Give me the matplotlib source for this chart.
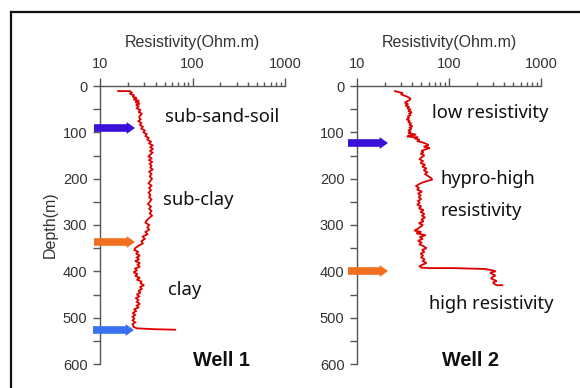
import matplotlib
matplotlib.use("Agg")
import matplotlib.pyplot as plt
from matplotlib.lines import Line2D
from matplotlib.ticker import LogLocator, NullFormatter, FixedLocator

plt.rcParams["font.family"] = ["Liberation Sans", "DejaVu Sans"]

# ---- data ----
well1_depth = [11, 11, 14, 17, 20, 23, 26, 29, 32, 35, 38, 41, 44, 48, 52, 56, 60, 64, 68, 72,
               76, 80, 84, 88, 92, 96, 100, 104, 108, 112, 116, 120, 124, 128, 132, 136, 140,
               144, 148, 152, 156, 160, 164, 168, 172, 176, 180, 185, 190, 195, 200, 205, 210,
               215, 220, 225, 230, 235, 240, 245, 250, 255, 260, 265, 270, 275, 280, 285, 290,
               295, 300, 305, 310, 315, 320, 325, 330, 335, 340, 345, 350, 354, 358, 362, 366,
               370, 374, 378, 382, 386, 390, 394, 398, 402, 406, 410, 414, 418, 422, 426, 430,
               434, 438, 442, 446, 450, 454, 458, 462, 466, 470, 474, 478, 482, 486, 490, 494,
               498, 502, 506, 510, 514, 518, 520, 523, 525, 526]
well1_res = [15.7, 21, 22, 21, 23.5, 22.5, 25, 23, 26.5, 24, 27, 24.5, 26, 25, 27.5, 26, 28.5, 27,
             26.5, 27.5, 26, 28, 27, 29, 28, 30.5, 29.5, 32, 31, 33.5, 32.5, 35.5, 34, 37, 35,
             37.5, 34.5, 37, 35, 33.5, 36, 34, 36.5, 34.5, 36, 35, 37, 34, 36, 34.5, 36.5, 35,
             33.5, 36, 34, 35.5, 33.5, 35, 34, 36, 34.5, 33, 35.5, 34, 36, 34.5, 36.5, 34, 32,
             31, 34, 32.5, 34, 31, 32.5, 29, 30.5, 28, 29, 26, 24, 23.5, 26, 24.5, 27, 25, 26.5,
             24, 27, 25.5, 27, 24, 25, 23, 25.5, 24, 27, 25, 28, 27.5, 30, 27, 28.5, 26, 27.5,
             25, 26.5, 24.5, 26, 25, 27, 25, 26, 23.5, 24.5, 22.5, 24, 22.5, 23.5, 22.5, 24,
             22.5, 23, 23, 25, 40, 65]

well2_depth = [11, 13, 15, 18, 21, 24, 27, 30, 33, 36, 39, 42, 45, 48, 51, 54, 57, 60, 63, 66,
               69, 72, 75, 78, 81, 84, 87, 90, 93, 96, 99, 102, 105, 107, 109, 111, 113, 116,
               119, 122, 125, 128, 131, 134, 137, 140, 143, 146, 150, 154, 158, 162, 166, 170,
               174, 178, 182, 186, 190, 194, 198, 202, 205, 208, 212, 216, 220, 224, 228, 232,
               236, 240, 244, 248, 252, 256, 260, 264, 268, 272, 276, 280, 284, 288, 292, 296,
               300, 304, 308, 312, 315, 318, 322, 326, 330, 334, 338, 342, 346, 350, 354, 358,
               362, 366, 370, 374, 378, 382, 386, 389, 392, 393, 393, 395, 396, 398, 400, 403,
               406, 409, 412, 415, 418, 421, 424, 427, 430, 430]
well2_res = [25.9, 28, 31.5, 30, 33, 36, 38, 37.5, 35, 33, 36, 33.5, 37, 35, 38.5, 36, 39.5, 37,
             38, 35.5, 37, 34.5, 37.5, 36, 39, 37, 40, 37.5, 39, 36, 38.5, 36, 44, 38, 35, 46,
             42, 48, 45, 52, 57, 60, 53, 62, 55, 50, 53, 49, 54, 50, 48, 52, 49, 55, 51, 57, 53,
             58, 55, 59, 63, 66, 58, 52, 47, 44, 47, 45, 51, 46, 49, 47, 50, 46, 48, 45, 50, 47,
             53, 49, 54, 51, 55, 50, 53, 47, 52, 49, 46, 42, 50, 44, 56, 48, 52, 46, 50, 48, 53,
             57, 51, 54, 49, 52, 50, 54, 52, 57, 51, 48, 50, 60, 110, 250, 262, 300, 320, 280,
             295, 320, 300, 285, 305, 330, 300, 310, 330, 380]

x_ticks = [10, 100, 1000]
x_ticklabels = ["10", "100", "1000"]
y_ticks = [0, 100, 200, 300, 400, 500, 600]

well1_labels = ["sub-sand-soil", "sub-clay", "clay"]
well2_labels = ["low resistivity", "hypro-high", "resistivity", "high resistivity"]
arrow_colors = {"blue": "#3a10d8", "orange": "#f07020", "lightblue": "#3a70f0"}

W, H = 580, 388
fig = plt.figure(figsize=(W / 100, H / 100), dpi=100)
fig.patch.set_facecolor("white")

# outer frame (extends beyond the image)
fig.add_artist(Line2D([10.5 / W, 10.5 / W], [0, 1 - 11.5 / H], transform=fig.transFigure,
                      color="#111111", lw=1.6))
fig.add_artist(Line2D([10.5 / W, 1.0], [1 - 11.5 / H, 1 - 11.5 / H], transform=fig.transFigure,
                      color="#111111", lw=1.6))

axis_col = "#555555"
text_col = "#333333"
ann_font = ["Noto Sans", "DejaVu Sans"]
AX_TOP, AX_BOT = 86, 364


def make_axes(left_px, right_px, depth, res):
    ax = fig.add_axes([left_px / W, 1 - AX_BOT / H, (right_px - left_px) / W,
                       (AX_BOT - AX_TOP) / H])
    ax.set_xscale("log")
    ax.set_xlim(10, 1000)
    ax.set_ylim(600, 0)
    for s in ["right", "bottom"]:
        ax.spines[s].set_visible(False)
    for s in ["left", "top"]:
        ax.spines[s].set_color(axis_col)
        ax.spines[s].set_linewidth(1.0)
    ax.xaxis.set_ticks_position("top")
    ax.xaxis.set_label_position("top")
    ax.set_xticks(x_ticks)
    ax.set_xticklabels(x_ticklabels)
    ax.xaxis.set_minor_locator(LogLocator(base=10, subs=range(2, 10)))
    ax.xaxis.set_minor_formatter(NullFormatter())
    ax.set_yticks(y_ticks)
    ax.yaxis.set_minor_locator(FixedLocator([50, 150, 250, 350, 450, 550]))
    ax.tick_params(axis="x", which="major", direction="out", length=6, width=1, color=axis_col,
                   labelsize=10.5, labelcolor=text_col, pad=5)
    ax.tick_params(axis="x", which="minor", direction="out", length=3, width=1, color=axis_col)
    ax.tick_params(axis="y", which="major", direction="out", length=5, width=1, color=axis_col,
                   labelsize=10.5, labelcolor=text_col, pad=4)
    ax.tick_params(axis="y", which="minor", direction="out", length=5, width=1, color=axis_col)
    ax.set_xlabel("Resistivity(Ohm.m)", fontsize=11.5, color=text_col, labelpad=7)
    ax.plot(res, depth, color="#e00000", lw=1.3, solid_joinstyle="miter")
    return ax


def px_text(ax, left_px, right_px, x_px, y_px, txt, **kw):
    fx = (x_px - left_px) / (right_px - left_px)
    fy = (AX_BOT - y_px) / (AX_BOT - AX_TOP)
    ax.text(fx, fy, txt, transform=ax.transAxes, va="center", ha="left",
            color="#111111", clip_on=False, **kw)


def px_arrow(ax, left_px, right_px, x0, x1, y_px, color):
    f0 = (x0 - left_px) / (right_px - left_px)
    f1 = (x1 - left_px) / (right_px - left_px)
    fy = (AX_BOT - y_px) / (AX_BOT - AX_TOP)
    ax.annotate("", xy=(f1, fy), xytext=(f0, fy), xycoords="axes fraction",
                textcoords="axes fraction",
                arrowprops=dict(arrowstyle="simple,head_length=0.6,head_width=0.85,tail_width=0.55",
                                color=color, lw=0, shrinkA=0, shrinkB=0),
                annotation_clip=False)


ann = dict(fontsize=13.2, family=ann_font)
bold = dict(fontsize=14.3, fontweight="bold")

ax1 = make_axes(100, 285, well1_depth, well1_res)
ax1.set_ylabel("Depth(m)", fontsize=11.5, color=text_col, labelpad=4)
px_text(ax1, 100, 285, 165, 117, well1_labels[0], **ann)
px_text(ax1, 100, 285, 163, 200, well1_labels[1], **ann)
px_text(ax1, 100, 285, 168, 290, well1_labels[2], **ann)
px_text(ax1, 100, 285, 193, 360, "Well 1", **bold)
px_arrow(ax1, 100, 285, 94, 135, 128, arrow_colors["blue"])
px_arrow(ax1, 100, 285, 94, 135, 242, arrow_colors["orange"])
px_arrow(ax1, 100, 285, 93, 134, 330, arrow_colors["lightblue"])

ax2 = make_axes(357, 541, well2_depth, well2_res)
px_text(ax2, 357, 541, 432, 113, well2_labels[0], **ann)
px_text(ax2, 357, 541, 440, 179, well2_labels[1], **ann)
px_text(ax2, 357, 541, 440, 211, well2_labels[2], **ann)
px_text(ax2, 357, 541, 429, 304, well2_labels[3], **ann)
px_text(ax2, 357, 541, 442, 361, "Well 2", **bold)
px_arrow(ax2, 357, 541, 348, 388, 143, arrow_colors["blue"])
px_arrow(ax2, 357, 541, 348, 388, 271, arrow_colors["orange"])

fig.savefig("out.png", dpi=100, facecolor="white")
